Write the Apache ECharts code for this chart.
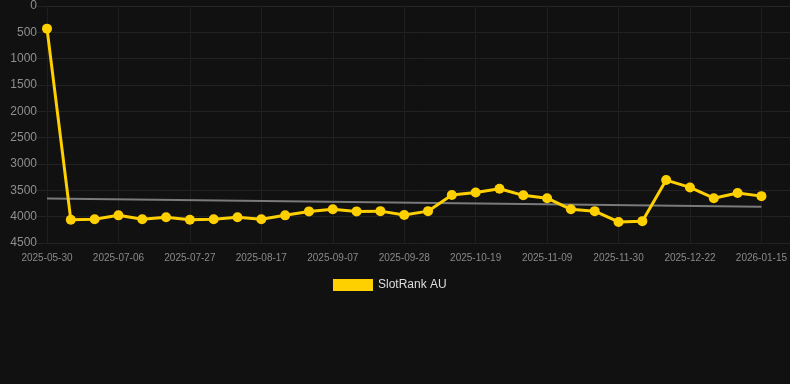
<!DOCTYPE html>
<html>
<head>
<meta charset="utf-8">
<script src="https://cdn.jsdelivr.net/npm/echarts@6/dist/echarts.min.js"></script>
<style>
    html, body { margin: 0; padding: 0; background: #111111; }
    #chartRank { width: 790px; height: 384px; }
</style>
</head>
<body>
<div id="chartRank"></div>
<script>
    "use strict";

    /*----rank history dates----*/
    var rankDates = ['2025-05-30', '2025-06-22', '2025-06-29', '2025-07-06', '2025-07-13', '2025-07-20',
        '2025-07-27', '2025-08-03', '2025-08-10', '2025-08-17', '2025-08-24', '2025-08-31',
        '2025-09-07', '2025-09-14', '2025-09-21', '2025-09-28', '2025-10-05', '2025-10-12',
        '2025-10-19', '2025-10-26', '2025-11-02', '2025-11-09', '2025-11-16', '2025-11-23',
        '2025-11-30', '2025-12-07', '2025-12-14', '2025-12-22', '2025-12-29', '2026-01-07',
        '2026-01-15'];

    /*----rank values (lower is better)----*/
    var rankValues = [430, 4060, 4050, 3975, 4050, 4010, 4060, 4050, 4010, 4050, 3975,
        3900, 3860, 3900, 3895, 3970, 3895, 3590, 3540, 3470, 3595, 3650,
        3860, 3895, 4100, 4085, 3305, 3445, 3650, 3550, 3610];

    /*----trend line end points----*/
    var trendStart = 3657;
    var trendEnd = 3811;

    // x is the position in the date list; the plot runs a bit past the last date
    var rankPoints = rankValues.map(function (v, i) { return [i, v]; });
    var trendPoints = [[0, trendStart], [rankDates.length - 1, trendEnd]];

    var optionRank = {
        backgroundColor: '#111111',
        animation: false,
        grid: {
            top: 6,
            right: 0,
            bottom: 141,
            left: 47
        },
        legend: {
            top: 274,
            left: 328,
            icon: 'rect',
            itemWidth: 40,
            itemHeight: 12,
            itemGap: 10,
            data: ['SlotRank AU'],
            textStyle: {
                color: '#dddddd',
                fontSize: 12,
                fontFamily: 'Liberation Sans, Arial, sans-serif'
            }
        },
        xAxis: {
            type: 'value',
            min: 0,
            max: 31.2,
            interval: 3,
            axisLine: {
                lineStyle: {
                    color: '#262626'
                }
            },
            axisTick: {
                show: true,
                length: 8,
                lineStyle: {
                    color: '#1f1f1f'
                }
            },
            splitLine: {
                show: true,
                lineStyle: {
                    color: '#1f1f1f'
                }
            },
            axisLabel: {
                fontSize: 10,
                margin: 10,
                color: '#8a8a8a',
                showMaxLabel: false,
                fontFamily: 'Liberation Sans, Arial, sans-serif',
                formatter: function (v) {
                    return rankDates[v] || '';
                }
            }
        },
        yAxis: {
            type: 'value',
            inverse: true,
            min: 0,
            max: 4500,
            interval: 500,
            axisLine: { show: false },
            axisTick: {
                show: true,
                length: 10,
                lineStyle: {
                    color: '#222222'
                }
            },
            splitLine: {
                lineStyle: {
                    color: '#222222'
                }
            },
            axisLabel: {
                fontSize: 12,
                margin: 10,
                color: '#8f8f8f',
                fontFamily: 'Liberation Sans, Arial, sans-serif',
                formatter: function (v) {
                    return String(v);
                }
            }
        },
        series: [{
            name: 'SlotRank AU',
            type: 'line',
            data: rankPoints,
            symbol: 'circle',
            symbolSize: 10,
            lineStyle: {
                width: 3,
                color: '#ffd000'
            },
            itemStyle: {
                color: '#ffd000'
            },
            z: 3
        }, {
            name: 'Trend',
            type: 'line',
            data: trendPoints,
            symbol: 'none',
            lineStyle: {
                width: 2,
                color: '#7a7a7a'
            },
            z: 2
        }]
    };

    var chartRank = document.getElementById('chartRank');
    var lineChartRank = echarts.init(chartRank);
    lineChartRank.setOption(optionRank);
</script>
</body>
</html>
